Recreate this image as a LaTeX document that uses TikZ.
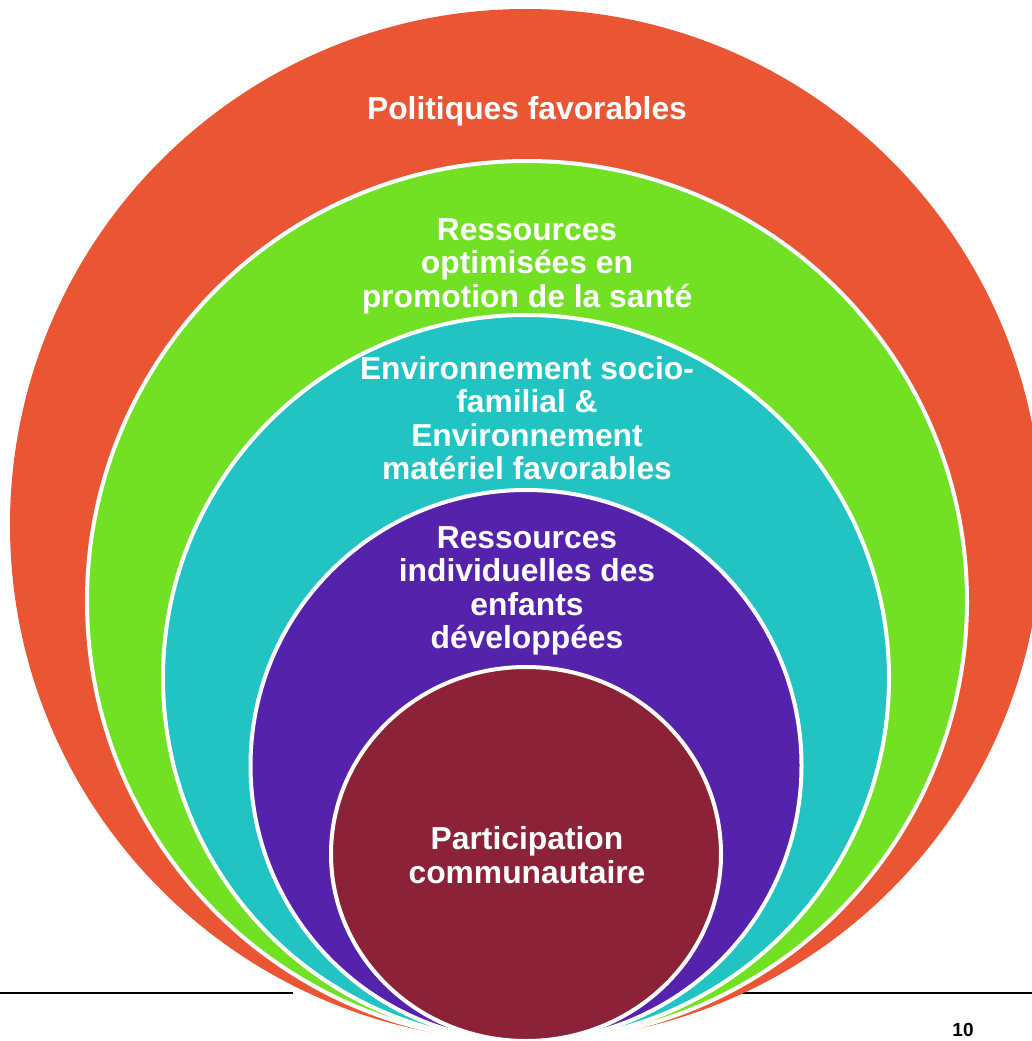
\documentclass[tikz,border=0pt]{standalone}
\usepackage{fontspec}
\setmainfont{Liberation Sans}
\definecolor{cred}{HTML}{EA5634}
\definecolor{cgreen}{HTML}{72E124}
\definecolor{cteal}{HTML}{22C3C3}
\definecolor{cpurple}{HTML}{5523AB}
\definecolor{cmaroon}{HTML}{8C2238}
\begin{document}
\begin{tikzpicture}[x=1pt,y=-1pt,
  ring/.style={draw=white,line width=4pt},
  lbl/.style={text=white,font=\fontsize{31.8}{33.5}\selectfont\bfseries,align=center,inner sep=0pt},
  rule/.style={draw=black,line width=2pt}]
\useasboundingbox (0,0) rectangle (1032,1041);
\clip (0,0) rectangle (1032,1041);
\coordinate (l0) at (0,992.5);
\coordinate (l1) at (293,992.5);
\coordinate (r0) at (742,992.5);
\coordinate (r1) at (1032,992.5);
\draw[rule] (l0) -- (l1);
\draw[rule] (r0) -- (r1);
\fill[cred] (526,525) circle (516pt);
\filldraw[ring,fill=cgreen] (527,601) circle (440pt);
\filldraw[ring,fill=cteal] (526,678) circle (363pt);
\filldraw[ring,fill=cpurple] (526,765.5) circle (275.5pt);
\filldraw[ring,fill=cmaroon] (526,854) ellipse [x radius=195pt, y radius=187pt];
\node[lbl] (t1) at (527,111) {Politiques favorables};
\node[lbl] (t2) at (527,266) {Ressources\\optimisées en\\promotion de la santé};
\node[lbl] (t3) at (527,418) {Environnement socio-\\familial \&\\Environnement\\matériel favorables};
\node[lbl] (t4) at (527,591) {Ressources\\individuelles des\\enfants\\développées};
\node[lbl] (t5) at (527,855) {Participation\\communautaire};
\node[font=\fontsize{19}{21}\selectfont\bfseries,inner sep=0pt] (pg) at (963,1030) {10};
\end{tikzpicture}
\end{document}
